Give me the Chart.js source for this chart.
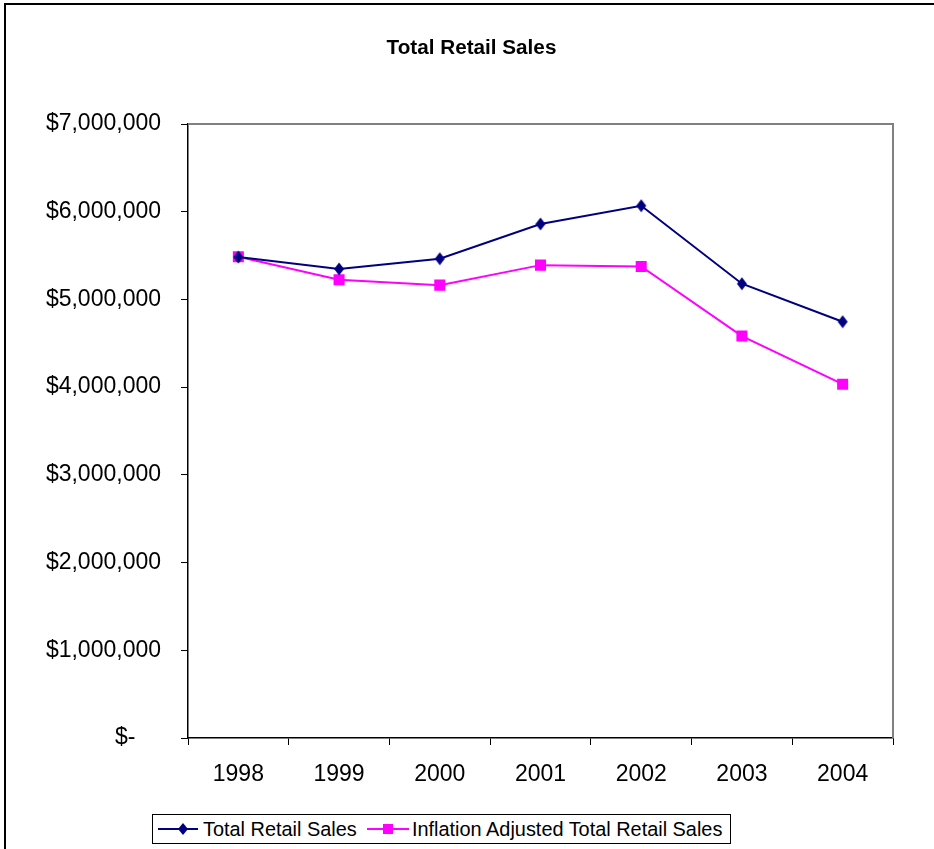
<!DOCTYPE html>
<html>
<head>
<meta charset="utf-8">
<script src="https://cdn.jsdelivr.net/npm/chart.js@4/dist/chart.umd.min.js"></script>
<style>
  html, body { margin: 0; padding: 0; background: #fff; }
  body { width: 934px; height: 849px; position: relative; overflow: hidden; font-family: Arial, "Liberation Sans", sans-serif; }
  #frame { position: absolute; left: 4px; top: 3px; width: 1000px; height: 1000px; border-left: 2px solid #000; border-top: 2px solid #000; box-sizing: border-box; }
  #c { position: absolute; left: 0; top: 0; }
  #title { position: absolute; left: 0; width: 943px; top: 35px; line-height: 24px; text-align: center; font-weight: bold; font-size: 20.7px; color: #000; }
  #legend { position: absolute; left: 152px; top: 814px; width: 579px; height: 30px; border: 1px solid #000; box-sizing: border-box; background: #fff; }
  .lt { position: absolute; top: 2px; line-height: 24px; font-size: 19.9px; color: #000; white-space: nowrap; }
  .ls { position: absolute; top: 0; }
</style>
</head>
<body>
<div id="frame"></div>
<canvas id="c" width="934" height="849"></canvas>
<div id="title">Total Retail Sales</div>
<div id="legend">
  <svg class="ls" style="left:4px" width="42" height="28"><line x1="1" y1="14" x2="41" y2="14" stroke="#000080" stroke-width="2"/><polygon points="26,8 31,14 26,20 21,14" fill="#000080"/></svg>
  <span class="lt" style="left:50px">Total Retail Sales</span>
  <svg class="ls" style="left:213px" width="44" height="28"><line x1="1" y1="14" x2="43" y2="14" stroke="#FF00FF" stroke-width="2"/><rect x="17" y="9" width="10" height="10" fill="#FF00FF"/></svg>
  <span class="lt" style="left:259px">Inflation Adjusted Total Retail Sales</span>
</div>
<script>
const years = ['1998', '1999', '2000', '2001', '2002', '2003', '2004'];
const totalRetailSales = [5483000, 5347000, 5464000, 5860000, 6068000, 5179000, 4746000];
const inflationAdjustedSales = [5487000, 5225000, 5163000, 5391000, 5376000, 4582000, 4034000];
const yTickValues = [0, 1000000, 2000000, 3000000, 4000000, 5000000, 6000000, 7000000];
const seriesNames = ['Total Retail Sales', 'Inflation Adjusted Total Retail Sales'];

function diamond(color) {
  const cv = document.createElement('canvas');
  cv.width = 12; cv.height = 14;
  const g = cv.getContext('2d');
  g.fillStyle = color;
  g.beginPath();
  g.moveTo(6, 0.5); g.lineTo(11, 7); g.lineTo(6, 13.5); g.lineTo(1, 7); g.closePath();
  g.fill();
  return cv;
}

const frameRight = {
  id: 'frameRight',
  beforeDatasetsDraw(chart) {
    const a = chart.chartArea, ctx = chart.ctx;
    ctx.save();
    ctx.strokeStyle = '#808080';
    ctx.lineWidth = 2;
    ctx.beginPath();
    ctx.moveTo(a.left, a.top);
    ctx.lineTo(a.right, a.top);
    ctx.lineTo(a.right, a.bottom);
    ctx.stroke();
    ctx.restore();
  }
};

const font = { family: 'Arial, "Liberation Sans", sans-serif', size: 23 };

new Chart(document.getElementById('c'), {
  type: 'line',
  data: {
    labels: years,
    datasets: [
      {
        label: seriesNames[0],
        data: totalRetailSales,
        borderColor: '#000080',
        backgroundColor: '#000080',
        borderWidth: 2,
        pointStyle: diamond('#000080'),
        pointRadius: 6,
        tension: 0,
        fill: false
      },
      {
        label: seriesNames[1],
        data: inflationAdjustedSales,
        borderColor: '#FF00FF',
        backgroundColor: '#FF00FF',
        borderWidth: 2,
        pointStyle: 'rect',
        pointRadius: 7.8,
        pointBorderWidth: 0,
        tension: 0,
        fill: false
      }
    ]
  },
  options: {
    responsive: false,
    devicePixelRatio: 1,
    animation: false,
    layout: { padding: { top: 124, right: 41, bottom: 51, left: 0 } },
    plugins: { legend: { display: false }, title: { display: false }, tooltip: { enabled: false } },
    scales: {
      x: {
        type: 'category',
        offset: true,
        grid: { display: true, drawOnChartArea: false, drawTicks: true, tickLength: 7, color: '#000', offset: true },
        border: { display: true, color: '#000', width: 1.5 },
        ticks: { color: '#000', font: font, padding: 16, maxRotation: 0 },
        afterFit(s) { s.height = 60; }
      },
      y: {
        min: 0,
        max: 7000000,
        afterBuildTicks(s) { s.ticks = yTickValues.map(v => ({ value: v })); },
        grid: { display: true, drawOnChartArea: false, drawTicks: true, tickLength: 7, color: '#000' },
        border: { display: true, color: '#000', width: 1.5 },
        ticks: {
          color: '#000', font: font, padding: 20,
          callback(v) { return v === 0 ? '$-    ' : '$' + Number(v).toLocaleString('en-US'); }
        },
        afterFit(s) { s.width = 188; }
      }
    }
  },
  plugins: [frameRight]
});
</script>
</body>
</html>
